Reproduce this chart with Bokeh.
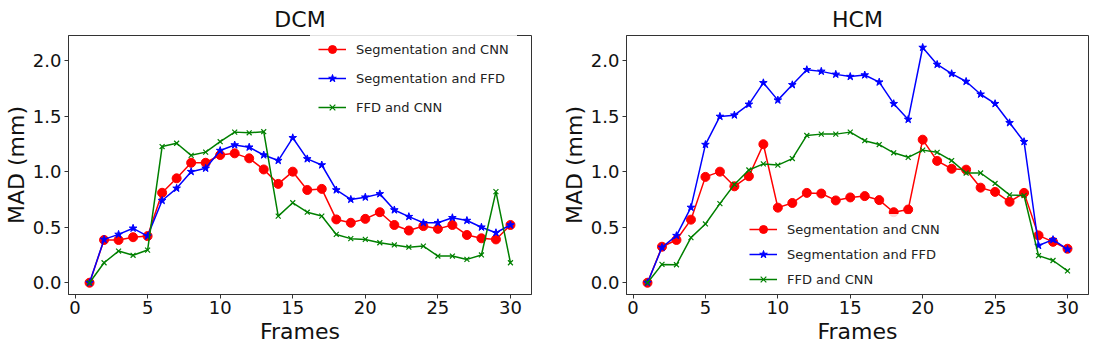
from bokeh.plotting import figure
from bokeh.layouts import row
from bokeh.models import Range1d, FixedTicker, PrintfTickFormatter, Legend, LegendItem
from bokeh.embed import file_html
from bokeh.resources import INLINE

frames = list(range(1, 31))
series_names = ["Segmentation and CNN", "Segmentation and FFD", "FFD and CNN"]

dcm_seg_cnn = [0.0, 0.385, 0.385, 0.41, 0.42, 0.81, 0.94, 1.08, 1.08, 1.15,
               1.165, 1.12, 1.02, 0.89, 1.00, 0.835, 0.845, 0.57, 0.54, 0.575,
               0.635, 0.52, 0.47, 0.51, 0.485, 0.52, 0.43, 0.40, 0.39, 0.52]
dcm_seg_ffd = [0.0, 0.39, 0.435, 0.49, 0.42, 0.74, 0.85, 1.00, 1.03, 1.19,
               1.24, 1.22, 1.15, 1.10, 1.305, 1.115, 1.06, 0.835, 0.75, 0.77,
               0.80, 0.655, 0.595, 0.54, 0.54, 0.585, 0.56, 0.50, 0.45, 0.52]
dcm_ffd_cnn = [0.0, 0.18, 0.285, 0.247, 0.294, 1.226, 1.256, 1.147, 1.176, 1.27,
               1.356, 1.35, 1.36, 0.60, 0.72, 0.635, 0.60, 0.435, 0.397, 0.39,
               0.36, 0.34, 0.32, 0.33, 0.24, 0.24, 0.21, 0.25, 0.82, 0.18]

hcm_seg_cnn = [0.0, 0.324, 0.385, 0.568, 0.953, 1.0, 0.868, 0.959, 1.247, 0.676,
               0.718, 0.809, 0.803, 0.741, 0.768, 0.78, 0.744, 0.635, 0.659, 1.288,
               1.097, 1.026, 1.018, 0.856, 0.818, 0.729, 0.809, 0.426, 0.368, 0.306]
hcm_seg_ffd = [0.0, 0.318, 0.424, 0.678, 1.244, 1.497, 1.509, 1.606, 1.80, 1.644,
               1.782, 1.918, 1.903, 1.876, 1.856, 1.87, 1.806, 1.612, 1.47, 2.118,
               1.965, 1.882, 1.812, 1.697, 1.612, 1.44, 1.27, 0.335, 0.388, 0.30]
hcm_ffd_cnn = [0.0, 0.165, 0.162, 0.406, 0.529, 0.712, 0.885, 1.015, 1.07, 1.059,
               1.118, 1.326, 1.338, 1.338, 1.356, 1.279, 1.244, 1.17, 1.129, 1.194,
               1.174, 1.10, 0.988, 0.988, 0.894, 0.791, 0.785, 0.244, 0.20, 0.106]

x_ticks = [0, 5, 10, 15, 20, 25, 30]
y_ticks = [0.0, 0.5, 1.0, 1.5, 2.0]

FONT = "DejaVu Sans"
AXC = "#333333"
styles = [
    dict(color="#ff0000", marker="circle", size=9),
    dict(color="#0000ff", marker="star", size=8),
    dict(color="#008000", marker="x", size=7),
]


def make(title, series, width, bl, br, leg_xy, leg_pad, leg_spacing):
    p = figure(width=width, height=357, output_backend="svg", toolbar_location=None,
               x_range=Range1d(-0.45, 31.45), y_range=Range1d(-0.106, 2.226),
               min_border_left=bl, min_border_right=br, min_border_top=29,
               min_border_bottom=63, title=title)
    p.title.align = "center"
    p.title.text_font = FONT
    p.title.text_font_size = "22px"
    p.title.text_font_style = "normal"
    p.title.text_color = "#111111"
    p.title.standoff = 8
    p.background_fill_color = "white"
    p.border_fill_color = "white"
    p.outline_line_color = AXC
    p.outline_line_width = 1
    p.xgrid.visible = False
    p.ygrid.visible = False

    items = []
    for name, ys, st in zip(series_names, series, styles):
        l = p.line(frames, ys, line_color=st["color"], line_width=1.5)
        if st["marker"] == "x":
            s = p.scatter(frames, ys, marker="x", size=st["size"], line_color=st["color"],
                          line_width=1.2)
        else:
            s = p.scatter(frames, ys, marker=st["marker"], size=st["size"],
                          fill_color=st["color"], line_color=st["color"])
        items.append(LegendItem(label=name, renderers=[l, s]))

    p.xaxis.ticker = FixedTicker(ticks=x_ticks)
    p.yaxis.ticker = FixedTicker(ticks=y_ticks)
    p.yaxis.formatter = PrintfTickFormatter(format="%.1f")
    p.xaxis.axis_label = "Frames"
    p.yaxis.axis_label = "MAD (mm)"
    for ax in (p.xaxis[0], p.yaxis[0]):
        ax.axis_line_color = AXC
        ax.major_tick_line_color = AXC
        ax.major_tick_in = 0
        ax.major_tick_out = 4
        ax.minor_tick_in = 0
        ax.minor_tick_out = 0
        ax.major_label_text_font = FONT
        ax.major_label_text_font_size = "18px"
        ax.major_label_text_color = "#111111"
        ax.axis_label_text_font = FONT
        ax.axis_label_text_font_size = "22px"
        ax.axis_label_text_font_style = "normal"
        ax.axis_label_text_color = "#111111"
    p.xaxis.major_label_standoff = 2
    p.xaxis.axis_label_standoff = 2
    p.yaxis.major_label_standoff = 3
    p.yaxis.axis_label_standoff = 1

    legend = Legend(items=items, location=leg_xy, padding=leg_pad, spacing=leg_spacing,
                    margin=0, glyph_width=28, glyph_height=20, label_height=20,
                    label_standoff=10, label_text_font=FONT, label_text_font_size="13px",
                    label_text_color="#222222", border_line_alpha=0,
                    background_fill_color="white", background_fill_alpha=0.85)
    p.add_layout(legend)
    return p


p1 = make("DCM", [dcm_seg_cnn, dcm_seg_ffd, dcm_ffd_cnn], 556, 67, 25,
          (242, 169), 8, 9)
p2 = make("HCM", [hcm_seg_cnn, hcm_seg_ffd, hcm_ffd_cnn], 540, 70, 8,
          (118, 0), 5, 5)

layout = row(p1, p2)
open("out.html", "w").write(file_html(layout, INLINE))
